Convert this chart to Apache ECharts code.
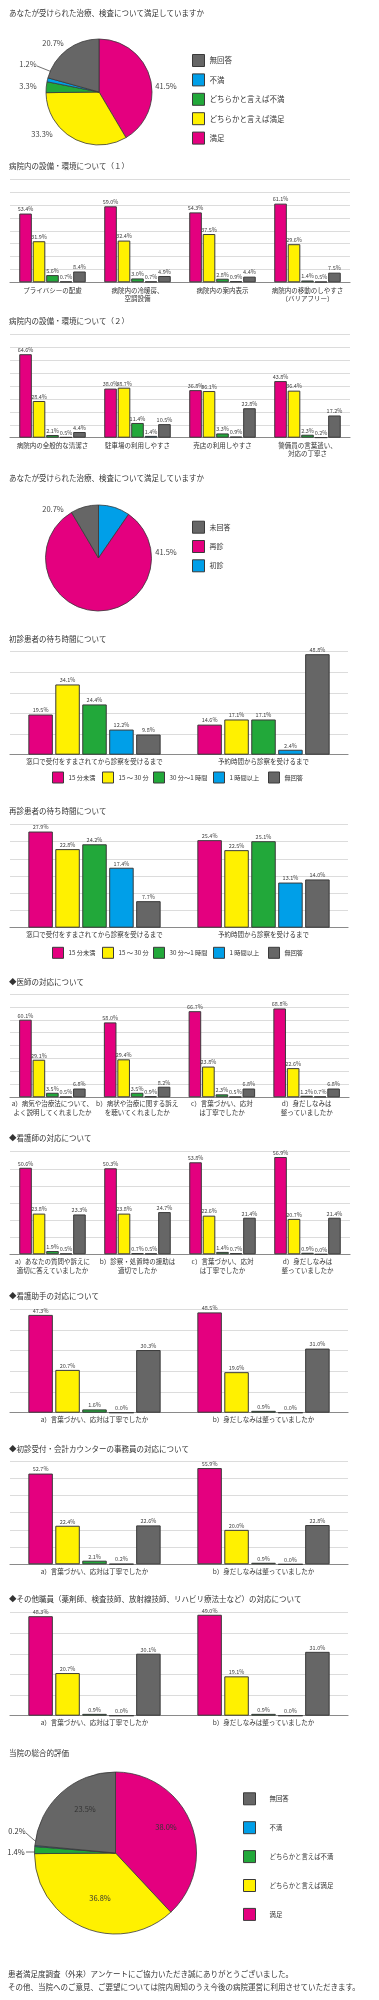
<!DOCTYPE html>
<html><head><meta charset="utf-8">
<script src="https://cdn.jsdelivr.net/npm/echarts@6/dist/echarts.min.js"></script>
<style>html,body{margin:0;padding:0;background:#fff}#c{width:379px;height:2000px}</style>
</head><body><div id="c"></div>
<script>
// ---------- data ----------
const satNames = ['満足','どちらかと言えば満足','どちらかと言えば不満','不満','無回答'];
const waitNames = ['15 分未満','15 ～ 30 分','30 分～1 時間','1 時間以上','無回答'];

// Pie 1: 治療・検査の満足度
const pie1Values = [41.5, 33.3, 3.3, 1.2, 20.7];
// Pie 2: 初診 / 再診 / 未回答 (labels as printed)
const pie2Names = ['初診','再診','未回答'];
const pie2Values = [9.6, 81.9, 8.5];
const pie2Labels = ['', '41.5%', '20.7%'];
// Pie 3: 当院の総合的評価
const pie3Values = [38.0, 36.8, 1.4, 0.2, 23.5];

const fac1Cats = ['プライバシーの配慮','病院内の冷暖房、\n空調設備','病院内の案内表示','病院内の移動のしやすさ\n（バリアフリー）'];
const fac1Satisfied = [53.4, 59.0, 54.3, 61.1];
const fac1RatherSat = [31.9, 32.4, 37.5, 29.6];
const fac1RatherDis = [5.6, 3.0, 2.8, 1.4];
const fac1Dissat    = [0.7, 0.7, 0.9, 0.5];
const fac1NoAnswer  = [8.4, 4.9, 4.4, 7.5];

const fac2Cats = ['病院内の全般的な清潔さ','駐車場の利用しやすさ','売店の利用しやすさ','警備員の言葉遣い、\n対応の丁寧さ'];
const fac2Satisfied = [64.6, 38.0, 36.8, 43.8];
const fac2RatherSat = [28.4, 38.7, 36.1, 36.4];
const fac2RatherDis = [2.1, 11.4, 3.3, 2.3];
const fac2Dissat    = [0.5, 1.4, 0.9, 0.2];
const fac2NoAnswer  = [4.4, 10.5, 22.8, 17.2];

const waitCats = ['窓口で受付をすまされてから診察を受けるまで','予約時間から診察を受けるまで'];
const wait1Under15 = [19.5, 14.6];
const wait1To30    = [34.1, 17.1];
const wait1To60    = [24.4, 17.1];
const wait1Over60  = [12.2, 2.4];
const wait1NoAns   = [9.8, 48.8];
const wait2Under15 = [27.9, 25.4];
const wait2To30    = [22.8, 22.5];
const wait2To60    = [24.2, 25.1];
const wait2Over60  = [17.4, 13.1];
const wait2NoAns   = [7.7, 14.0];

const docCats = ['a）病気や治療法について、\nよく説明してくれましたか','b）病状や治療に関する訴え\nを聴いてくれましたか','c）言葉づかい、応対\nは丁寧でしたか','d）身だしなみは\n整っていましたか'];
const docSatisfied = [60.1, 58.0, 66.7, 68.8];
const docRatherSat = [29.1, 29.4, 23.8, 22.6];
const docRatherDis = [3.5, 3.5, 2.3, 1.2];
const docDissat    = [0.5, 0.9, 0.5, 0.7];
const docNoAnswer  = [6.8, 8.2, 6.8, 6.8];

const nurseCats = ['a）あなたの質問や訴えに\n適切に答えていましたか','b）診察・処置時の援助は\n適切でしたか','c）言葉づかい、応対\nは丁寧でしたか','d）身だしなみは\n整っていましたか'];
const nurseSatisfied = [50.6, 50.3, 53.8, 56.9];
const nurseRatherSat = [23.8, 23.8, 22.6, 20.7];
const nurseRatherDis = [1.9, 0.7, 1.4, 0.9];
const nurseDissat    = [0.5, 0.5, 0.7, 0.0];
const nurseNoAnswer  = [23.3, 24.7, 21.4, 21.4];

const twoCats = ['a）言葉づかい、応対は丁寧でしたか','b）身だしなみは整っていましたか'];
const aideSatisfied = [47.3, 48.5];
const aideRatherSat = [20.7, 19.6];
const aideRatherDis = [1.6, 0.9];
const aideDissat    = [0.0, 0.0];
const aideNoAnswer  = [30.3, 31.0];

const clerkSatisfied = [52.7, 55.9];
const clerkRatherSat = [22.4, 20.0];
const clerkRatherDis = [2.1, 0.9];
const clerkDissat    = [0.2, 0.0];
const clerkNoAnswer  = [22.6, 22.8];

const otherSatisfied = [48.3, 49.0];
const otherRatherSat = [20.7, 19.1];
const otherRatherDis = [0.9, 0.9];
const otherDissat    = [0.0, 0.0];
const otherNoAnswer  = [30.1, 31.0];

const titles = [
  'あなたが受けられた治療、検査について満足していますか',
  '病院内の設備・環境について（１）',
  '病院内の設備・環境について（２）',
  'あなたが受けられた治療、検査について満足していますか',
  '初診患者の待ち時間について',
  '再診患者の待ち時間について',
  '◆医師の対応について',
  '◆看護師の対応について',
  '◆看護助手の対応について',
  '◆初診受付・会計カウンターの事務員の対応について',
  '◆その他職員（薬剤師、検査技師、放射線技師、リハビリ療法士など）の対応について',
  '当院の総合的評価'
];
const footerLines = [
  '患者満足度調査（外来）アンケートにご協力いただき誠にありがとうございました。',
  'その他、当院へのご意見、ご要望については院内周知のうえ今後の病院運営に利用させていただきます。'
];

// ---------- styles / layout ----------
const FONT = "'Noto Sans CJK JP','Noto Sans',sans-serif";
const COLORS = ['#e4007f','#fff100','#22a83a','#009fe8','#666666'];
const BORDER = '#3a3a3a';
const pieColorOf = {'満足':COLORS[0],'どちらかと言えば満足':COLORS[1],'どちらかと言えば不満':COLORS[2],'不満':COLORS[3],'無回答':COLORS[4],'初診':COLORS[3],'再診':COLORS[0],'未回答':COLORS[4]};

const option = {
  animation:false,
  backgroundColor:'#ffffff',
  textStyle:{fontFamily:FONT},
  grid:[], xAxis:[], yAxis:[], series:[], legend:[], graphic:[]
};

function barBlock(grid, cats, values, names, max, interval, barWidth, barGap, catFont, lineH, margin){
  const idx = option.grid.length;
  option.grid.push(Object.assign({containLabel:false}, grid));
  option.xAxis.push({type:'category', gridIndex:idx, data:cats,
    axisLine:{show:true, lineStyle:{color:'#8a8a8a', width:1.2}},
    axisTick:{show:false},
    axisLabel:{interval:0, fontSize:catFont, color:'#333', lineHeight:lineH, margin:margin, fontFamily:FONT}});
  option.yAxis.push({type:'value', gridIndex:idx, min:0, max:max, interval:interval,
    axisLabel:{show:false}, axisLine:{show:false}, axisTick:{show:false},
    splitLine:{show:true, lineStyle:{color:'#dcdcdc', width:1}}});
  values.forEach((vals, k) => {
    option.series.push({type:'bar', name:names[k], xAxisIndex:idx, yAxisIndex:idx, data:vals,
      barWidth:barWidth, barGap:barGap, silent:true,
      itemStyle:{color:COLORS[k], borderColor:BORDER, borderWidth:1},
      label:{show:true, position:'top', distance:1.5, fontSize:5.5, color:'#444', fontFamily:FONT,
        formatter:p => p.value.toFixed(1) + '%'}});
  });
}

// Pies
function pieSeries(center, radius, names, values, labelTexts, labelPos, linePts, labelColor, labelFont){
  option.series.push({
    type:'pie', center:center, radius:radius, startAngle:90, clockwise:true, silent:true,
    avoidLabelOverlap:false,
    data: values.map((v,i) => ({
      name:names[i], value:v,
      itemStyle:{color:pieColorOf[names[i]], borderColor:BORDER, borderWidth:0.8},
      label:{show: !!labelTexts[i]},
      labelLine:{show: !!linePts[i], lineStyle:{color:'#333', width:0.7}}
    })),
    label:{show:true, position:'outside', fontSize:labelFont, color:labelColor, fontFamily:FONT,
      formatter:p => labelTexts[p.dataIndex]},
    labelLine:{show:false, length:2, length2:2},
    labelLayout:function(p){
      const pos = labelPos[p.dataIndex];
      if(!pos) return {};
      const o = {x:pos[0], y:pos[1], align:'center', verticalAlign:'middle'};
      if(linePts[p.dataIndex]) o.labelLinePoints = linePts[p.dataIndex];
      return o;
    }
  });
}

const pct = v => v.toFixed(1) + '%';
pieSeries([99,92], 53, satNames, pie1Values, pie1Values.map(pct),
  [[166,86],[42,134],[28,86],[28,64],[53,43]],
  [null,null,null,[[37,66],[67,78],[97,91]],null], '#444', 7.5);
pieSeries([98.5,558], 53, pie2Names, pie2Values, pie2Labels,
  [null,[166,552],[53,509]], [null,null,null], '#444', 7.5);
pieSeries([115.5,1853], 81, satNames, pie3Values, pie3Values.map(pct),
  [[166,1827],[100,1898],[16,1852],[17,1831],[85,1809]],
  [null,null,[[26,1852],[38,1852],[50,1852]],[[26,1833],[34,1840],[42,1846]],null], '#333', 7.5);

// Bar charts
barBlock({left:10, width:340, top:179.3, height:103}, fac1Cats,
  [fac1Satisfied, fac1RatherSat, fac1RatherDis, fac1Dissat, fac1NoAnswer], satNames, 80, 10, 12.6, '7%', 6.5, 8.5, 3.5);
barBlock({left:10, width:340, top:334.3, height:103.4}, fac2Cats,
  [fac2Satisfied, fac2RatherSat, fac2RatherDis, fac2Dissat, fac2NoAnswer], satNames, 80, 10, 12.6, '7%', 6.5, 8.5, 3.5);
barBlock({left:10, width:338, top:651.7, height:103}, waitCats,
  [wait1Under15, wait1To30, wait1To60, wait1Over60, wait1NoAns], waitNames, 50, 10, 24.5, '10%', 6.5, 8.5, 3);
barBlock({left:10, width:338, top:824.3, height:103.4}, waitCats,
  [wait2Under15, wait2To30, wait2To60, wait2Over60, wait2NoAns], waitNames, 30, 5, 24.5, '10%', 6.5, 8.5, 3);
barBlock({left:10, width:339, top:994, height:103.3}, docCats,
  [docSatisfied, docRatherSat, docRatherDis, docDissat, docNoAnswer], satNames, 80, 10, 12.6, '7%', 6.5, 9, 2);
barBlock({left:10, width:340, top:1151.7, height:102.6}, nurseCats,
  [nurseSatisfied, nurseRatherSat, nurseRatherDis, nurseDissat, nurseNoAnswer], satNames, 60, 10, 12.6, '7%', 6.5, 9, 3);
barBlock({left:10, width:338, top:1309.3, height:103.4}, twoCats,
  [aideSatisfied, aideRatherSat, aideRatherDis, aideDissat, aideNoAnswer], satNames, 50, 10, 24.5, '10%', 6.5, 8.5, 3);
barBlock({left:10, width:338, top:1461, height:103.3}, twoCats,
  [clerkSatisfied, clerkRatherSat, clerkRatherDis, clerkDissat, clerkNoAnswer], satNames, 60, 10, 24.5, '10%', 6.5, 8.5, 3);
barBlock({left:10, width:338, top:1612.7, height:103}, twoCats,
  [otherSatisfied, otherRatherSat, otherRatherDis, otherDissat, otherNoAnswer], satNames, 50, 10, 24.5, '10%', 6.5, 8.5, 3);

// Legends
const legendBase = {icon:'rect', selectedMode:false, padding:0,
  itemStyle:{borderColor:BORDER, borderWidth:1}};
option.legend.push(Object.assign({}, legendBase, {orient:'vertical', left:192, top:54, itemWidth:12, itemHeight:12, itemGap:6.4,
  data:['無回答','不満','どちらかと言えば不満','どちらかと言えば満足','満足'], textStyle:{fontSize:7.5, color:'#333', fontFamily:FONT}}));
option.legend.push(Object.assign({}, legendBase, {orient:'vertical', left:192, top:520.7, itemWidth:12, itemHeight:12, itemGap:6.3,
  data:['未回答','再診','初診'], textStyle:{fontSize:7, color:'#333', fontFamily:FONT}}));
option.legend.push(Object.assign({}, legendBase, {orient:'vertical', left:243, top:1792.3, itemWidth:12, itemHeight:12, itemGap:15.9,
  data:['無回答','不満','どちらかと言えば不満','どちらかと言えば満足','満足'], textStyle:{fontSize:6.4, color:'#333', padding:[0,0,0,9], fontFamily:FONT}}));
const waitLegendLeft = [52, 102, 153, 213, 268];
[771.5, 946.8].forEach(top => {
  waitNames.forEach((n, i) => {
    option.legend.push(Object.assign({}, legendBase, {orient:'horizontal', left:waitLegendLeft[i], top:top,
      itemWidth:11, itemHeight:11, data:[n], textStyle:{fontSize:6.2, color:'#333', fontFamily:FONT}}));
  });
});

// Titles & footer
const titleY = [13, 166, 321, 478, 639, 811, 982, 1138, 1296, 1449, 1599, 1753];
titles.forEach((t, i) => {
  option.graphic.push({type:'text', x:9, y:titleY[i], silent:true,
    style:{text:t, fontSize:7.5, fill:'#333', fontFamily:FONT, verticalAlign:'middle'}});
});
footerLines.forEach((t, i) => {
  option.graphic.push({type:'text', x:8, y:1974 + i*12.7, silent:true,
    style:{text:t, fontSize:7.5, fill:'#333', fontFamily:FONT, verticalAlign:'middle'}});
});

const chart = echarts.init(document.getElementById('c'), null, {renderer:'canvas'});
chart.setOption(option);
</script></body></html>
